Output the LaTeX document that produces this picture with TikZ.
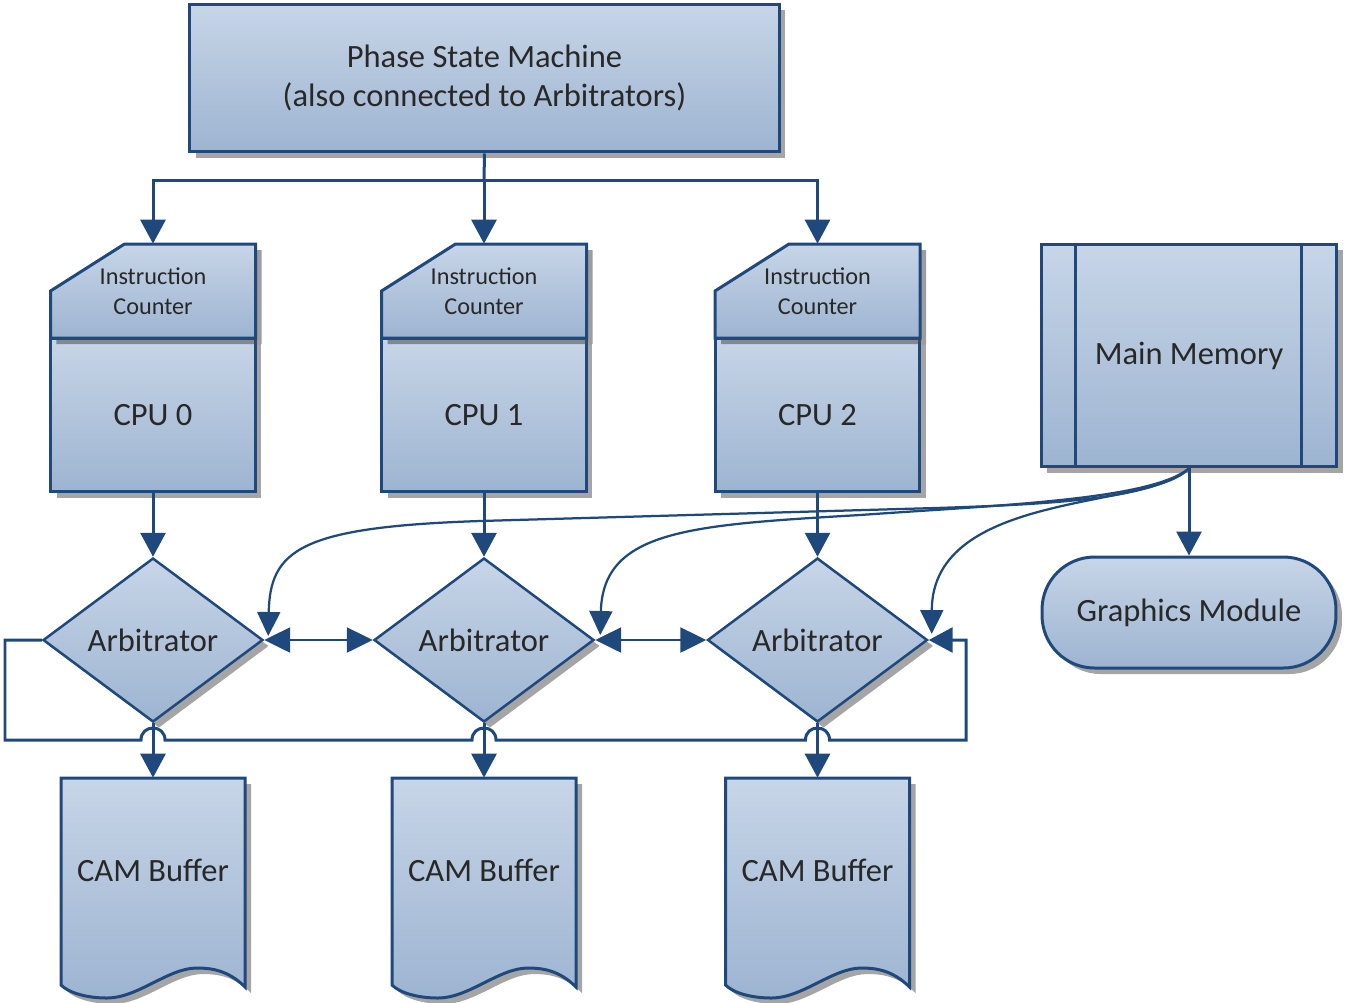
\documentclass[tikz,border=0pt]{standalone}
\usepackage{fontspec}
\setmainfont{Carlito}
\usetikzlibrary{arrows.meta,shapes.geometric,shadows,calc}
\definecolor{bord}{RGB}{31,73,125}
\definecolor{ftop}{RGB}{199,213,231}
\definecolor{fbot}{RGB}{157,180,209}
\definecolor{shd}{RGB}{165,165,165}
\definecolor{txt}{RGB}{40,40,40}
\tikzset{
  boxfill/.style={top color=ftop, bottom color=fbot, draw=bord, line width=0.06cm},
  shad/.style={drop shadow={shadow xshift=0.12cm, shadow yshift=-0.12cm, opacity=1, fill=shd}},
  icshad/.style={drop shadow={shadow xshift=0.12cm, shadow yshift=-0.12cm, opacity=0.55, fill=black!70}},
  big/.style={font=\fontsize{18.5pt}{22pt}\selectfont, text=txt},
  small/.style={font=\fontsize{13.8pt}{17pt}\selectfont, text=txt},
  plainline/.style={draw=bord, line width=0.06cm},
  conn/.style={draw=bord, line width=0.06cm, -{Triangle[width=0.5cm,length=0.48cm]}},
  dconn/.style={draw=bord, line width=0.05cm, {Triangle[width=0.5cm,length=0.52cm]}-{Triangle[width=0.5cm,length=0.52cm]}},
  curv/.style={draw=bord, line width=0.045cm, -{Triangle[width=0.46cm,length=0.48cm]}},
}
\begin{document}
\begin{tikzpicture}[x=0.02cm,y=-0.02cm]
\useasboundingbox (0,0) rectangle (1345,1002);

% Phase state machine
\node[boxfill,shad,big,minimum width=11.8cm,minimum height=2.96cm,inner sep=0,align=center]
  (psm) at (484.5,78) {Phase State Machine\\(also connected to Arbitrators)};

% CPUs and instruction counters
\foreach \i/\x in {0/153,1/484,2/817.5}{
  \node[boxfill,shad,big,minimum width=4.1cm,minimum height=3.08cm,inner sep=0]
    (cpu\i) at (\x,415) {CPU \i};
  \path[boxfill,icshad] ({\x-102.5},338) -- ({\x-102.5},291) -- ({\x-28.5},244)
    -- ({\x+102.5},244) -- ({\x+102.5},338) -- cycle;
  \node[small,minimum width=4.1cm,minimum height=1.88cm,inner sep=0,align=center]
    (ic\i) at (\x,291) {Instruction\\Counter};
  \node[diamond,boxfill,shad,big,aspect=1.4,minimum width=4.4cm,minimum height=3.28cm,inner sep=0,line width=0.05cm]
    (arb\i) at (\x,640) {Arbitrator};
  \path[boxfill,shad] ({\x-92},778) -- ({\x+92},778) -- ({\x+92},987)
    .. controls ({\x+75},970) and ({\x+58},968) .. ({\x+44},968)
    .. controls ({\x+15},968) and ({\x-15},998) .. ({\x-46},998)
    .. controls ({\x-66},998) and ({\x-84},993) .. ({\x-92},985) -- cycle;
  \node[big,minimum width=3.68cm,minimum height=3.68cm,inner sep=0]
    (cam\i) at (\x,870) {CAM Buffer};
}

% Main memory
\node[boxfill,shad,big,minimum width=5.92cm,minimum height=4.46cm,inner sep=0]
  (mm) at (1189,355.5) {Main Memory};
\draw[plainline] ($(mm.north west)+(36,0)$) -- ($(mm.south west)+(36,0)$);
\draw[plainline] ($(mm.north east)+(-37,0)$) -- ($(mm.south east)+(-37,0)$);

% Graphics module
\node[boxfill,shad,big,rounded corners=1.05cm,minimum width=5.88cm,minimum height=2.22cm,inner sep=0]
  (gm) at (1189,612.5) {Graphics Module};

% PSM bus
\coordinate (bus) at (484,180);
\draw[plainline] (psm.south) -- (bus);
\draw[conn] (bus) -| (ic0.north);
\draw[conn] (bus) -- (ic1.north);
\draw[conn] (bus) -| (ic2.north);

% CPU -> arbitrator -> CAM
\foreach \i in {0,1,2}{
  \draw[conn] (cpu\i.south) -- (arb\i.north);
  \draw[conn] (arb\i.south) -- (cam\i.north);
}

% arbitrator ring
\draw[dconn] (arb0.east) -- (arb1.west);
\draw[dconn] (arb1.east) -- (arb2.west);
\coordinate (lpA) at (5,640);
\coordinate (lpB) at (5,740);
\coordinate (lpC) at (966,740);
\coordinate (lpD) at (966,640);
\draw[conn] (arb0.west) -- (lpA) -- (lpB) -- (141,740)
  .. controls (141,724) and (165,724) .. (165,740) -- (472,740)
  .. controls (472,724) and (496,724) .. (496,740) -- (805.5,740)
  .. controls (805.5,724) and (829.5,724) .. (829.5,740) -- (lpC) -- (lpD) -- (arb2.east);

% memory -> arbitrators
\draw[curv] (mm.south) .. controls (1150,500) and (1050,505) .. (900,509)
  -- (480,521) .. controls (300,527) and (270,550) .. ($(arb0.east)+(4,-4)$);
\draw[curv] (mm.south) .. controls (1150,500) and (1000,505) .. (860,515)
  .. controls (690,525) and (603,530) .. ($(arb1.east)+(5,-5)$);
\draw[curv] (mm.south) .. controls (1150,510) and (932,490) .. ($(arb2.east)+(3,-6)$);

% memory -> graphics
\draw[conn] (mm.south) -- (gm.north);
\end{tikzpicture}
\end{document}
